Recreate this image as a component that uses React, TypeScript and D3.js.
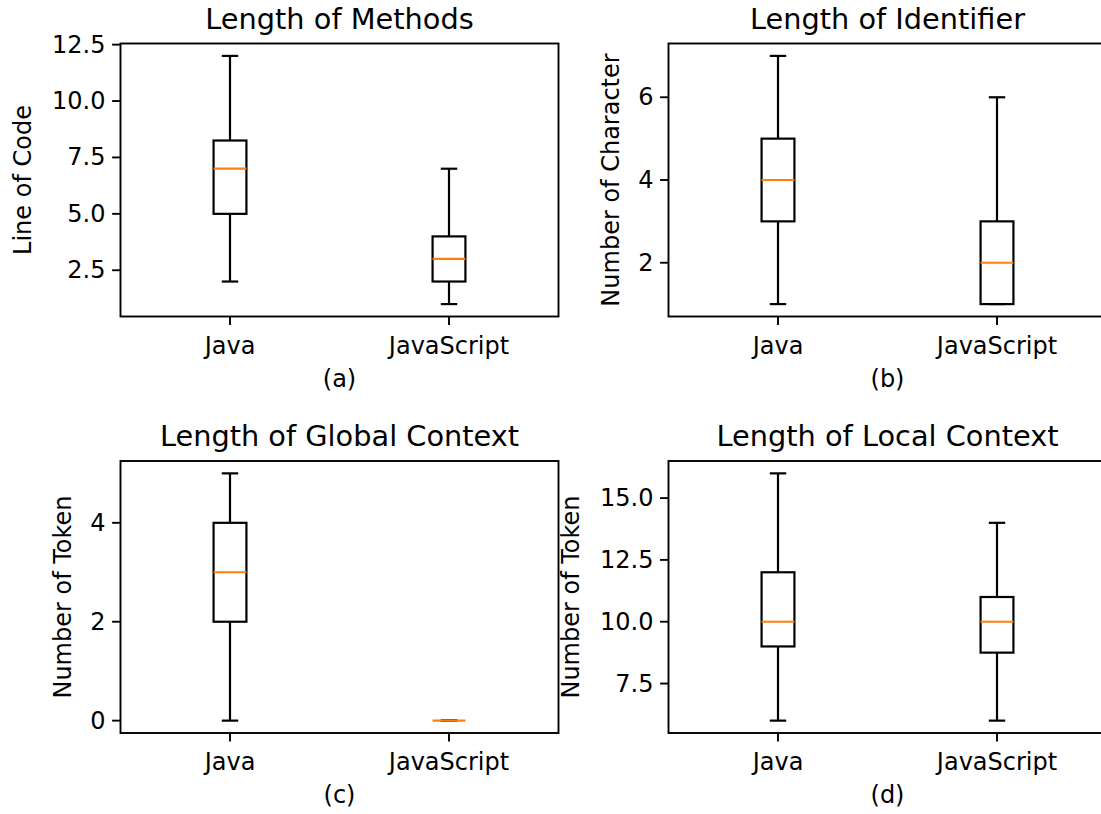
import React, { useEffect } from 'react';
import * as d3 from 'd3';

// four boxplot panels, matplotlib look
const languages = ['Java', 'JavaScript'];

// [whisker low, q1, median, q3, whisker high]
const methodLength = [
  [2, 5, 7, 8.25, 12],
  [1, 2, 3, 4, 7],
];
const identifierLength = [
  [1, 3, 4, 5, 7],
  [1, 1, 2, 3, 6],
];
const globalContext = [
  [0, 2, 3, 4, 5],
  [0, 0, 0, 0, 0],
];
const localContext = [
  [6, 9, 10, 12, 16],
  [6, 8.75, 10, 11, 14],
];

const methodTicks = [2.5, 5.0, 7.5, 10.0, 12.5];
const identifierTicks = [2, 4, 6];
const globalTicks = [0, 2, 4];
const localTicks = [7.5, 10.0, 12.5, 15.0];

const panels = [
  { title: 'Length of Methods', ylabel: 'Line of Code', caption: '(a)', stats: methodLength, ticks: methodTicks, decimals: 1 },
  { title: 'Length of Identifier', ylabel: 'Number of Character', caption: '(b)', stats: identifierLength, ticks: identifierTicks, decimals: 0 },
  { title: 'Length of Global Context', ylabel: 'Number of Token', caption: '(c)', stats: globalContext, ticks: globalTicks, decimals: 0 },
  { title: 'Length of Local Context', ylabel: 'Number of Token', caption: '(d)', stats: localContext, ticks: localTicks, decimals: 1 },
];

const W = 1101;
const H = 814;
const font = '"DejaVu Sans", sans-serif';
// layout of each axes box in the figure
const frames = [
  { left: 120.5, top: 43.5, bottom: 316.5, labelX: 23 },
  { left: 668.5, top: 43.5, bottom: 316.5, labelX: 611 },
  { left: 120.5, top: 461, bottom: 733, labelX: 62.5 },
  { left: 668.5, top: 461, bottom: 733, labelX: 571 },
];
const axW = 438;

const Panel = ({ p, f }) => {
  const lo = d3.min(p.stats, (d) => d[0]);
  const hi = d3.max(p.stats, (d) => d[4]);
  const pad = (hi - lo) * 0.05;
  const x = d3.scaleLinear().domain([0.5, 2.5]).range([f.left, f.left + axW]);
  const y = d3.scaleLinear().domain([lo - pad, hi + pad]).range([f.bottom, f.top]);
  const boxW = x(1.15) - x(1);
  const capW = boxW / 2;
  const fmt = d3.format(`.${p.decimals}f`);
  const midX = f.left + axW / 2;
  const midY = (f.top + f.bottom) / 2;

  return (
    <g>
      <text x={midX} y={f.top - 15} textAnchor="middle" fontSize={28.8} fontFamily={font}>
        {p.title}
      </text>
      <text
        transform={`translate(${f.labelX},${midY}) rotate(-90)`}
        textAnchor="middle"
        dominantBaseline="central"
        fontSize={24}
        fontFamily={font}
      >
        {p.ylabel}
      </text>
      {p.ticks.map((t) => (
        <g key={t}>
          <line x1={f.left - 8.4} x2={f.left} y1={y(t)} y2={y(t)} stroke="#000" strokeWidth={1.9} />
          <text x={f.left - 15} y={y(t)} textAnchor="end" dominantBaseline="central" fontSize={24} fontFamily={font}>
            {fmt(t)}
          </text>
        </g>
      ))}
      {languages.map((name, i) => (
        <g key={name}>
          <line x1={x(i + 1)} x2={x(i + 1)} y1={f.bottom} y2={f.bottom + 8.4} stroke="#000" strokeWidth={1.9} />
          <text x={x(i + 1)} y={f.bottom + 37} textAnchor="middle" fontSize={24} fontFamily={font}>
            {name}
          </text>
        </g>
      ))}
      <text x={midX} y={f.bottom + 70} textAnchor="middle" fontSize={24} fontFamily={font}>
        {p.caption}
      </text>
      {p.stats.map((s, i) => {
        const cx = x(i + 1);
        return (
          <g key={i} stroke="#000" strokeWidth={2.2} fill="none">
            <line x1={cx} x2={cx} y1={y(s[1])} y2={y(s[0])} />
            <line x1={cx} x2={cx} y1={y(s[3])} y2={y(s[4])} />
            <line x1={cx - capW / 2} x2={cx + capW / 2} y1={y(s[0])} y2={y(s[0])} />
            <line x1={cx - capW / 2} x2={cx + capW / 2} y1={y(s[4])} y2={y(s[4])} />
            <rect x={cx - boxW / 2} y={y(s[3])} width={boxW} height={y(s[1]) - y(s[3])} />
            <line x1={cx - boxW / 2} x2={cx + boxW / 2} y1={y(s[2])} y2={y(s[2])} stroke="#ff7f0e" />
          </g>
        );
      })}
      <rect x={f.left} y={f.top} width={axW} height={f.bottom - f.top} fill="none" stroke="#000" strokeWidth={1.9} />
    </g>
  );
};

export default function App() {
  useEffect(() => {
    document.body.style.margin = '0';
    document.body.style.overflow = 'hidden';
  }, []);
  return (
    <svg width={W} height={H} style={{ display: 'block', background: '#fff' }}>
      {panels.map((p, i) => (
        <Panel key={p.caption} p={p} f={frames[i]} />
      ))}
    </svg>
  );
}
